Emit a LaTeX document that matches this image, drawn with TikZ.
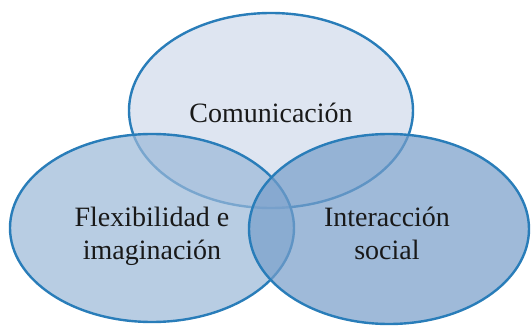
\documentclass[tikz,border=0pt]{standalone}
\usepackage{fontspec}
\setmainfont{Liberation Serif}
\definecolor{edgeblue}{RGB}{41,125,185}
\definecolor{topfill}{RGB}{208,219,236}
\definecolor{leftfill}{RGB}{155,184,216}
\definecolor{rightfill}{RGB}{119,158,202}
\definecolor{txt}{RGB}{25,25,25}
\tikzset{
  venn/.style={draw=edgeblue, line width=2.4pt, fill opacity=0.7},
  lbl/.style={font=\fontsize{28}{33}\selectfont, text=txt, align=center, inner sep=0pt, anchor=base}
}
\begin{document}
\begin{tikzpicture}[x=1pt,y=1pt]
\useasboundingbox (0,0) rectangle (531,325);
\fill[white] (0,0) rectangle (531,325);
\filldraw[venn, fill=topfill] (271,214.5) ellipse [x radius=142, y radius=97.5];
\filldraw[venn, fill=leftfill] (152,97) ellipse [x radius=142, y radius=94];
\filldraw[venn, fill=rightfill] (389,96) ellipse [x radius=140, y radius=95];
\node[lbl] (com) at (271,203) {Comunicación};
\node[lbl] (flex) at (152,66) {Flexibilidad e\\imaginación};
\node[lbl] (inter) at (387,66) {Interacción\\social};
\end{tikzpicture}
\end{document}
